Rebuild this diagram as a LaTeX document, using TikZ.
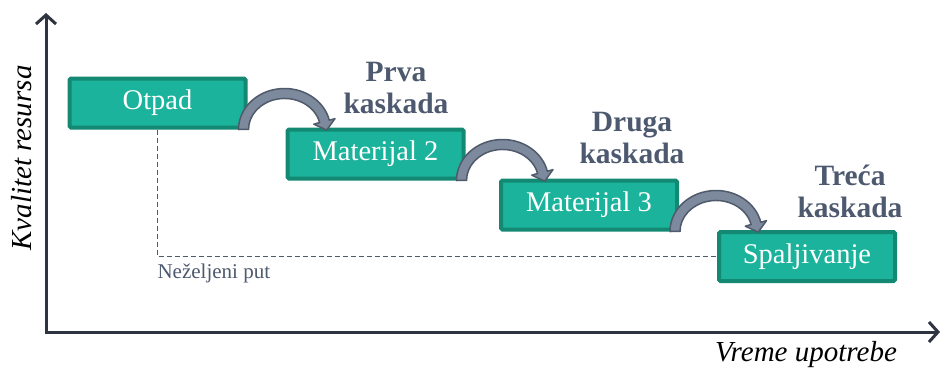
\documentclass[tikz,border=0pt]{standalone}
\usepackage{fontspec}
\setmainfont{Liberation Serif}
\usetikzlibrary{arrows.meta,calc}
\definecolor{boxfill}{HTML}{1BB39B}
\definecolor{boxline}{HTML}{138873}
\definecolor{labelcol}{HTML}{4D596E}
\definecolor{arrfill}{HTML}{7D899D}
\definecolor{arrline}{HTML}{4F5A6B}
\definecolor{axiscol}{HTML}{2E3440}
\tikzset{
  stagebox/.style={draw=boxline, fill=boxfill, line width=4pt, rounded corners=1.5pt,
    minimum width=176pt, minimum height=49pt, inner sep=0pt, text=white,
    font=\fontsize{28.5}{31}\selectfont},
  cascadelabel/.style={align=center, text=labelcol, font=\fontsize{29.5}{32}\selectfont\bfseries},
  axislabel/.style={font=\fontsize{29}{32}\selectfont\itshape, text=black},
  blockarrow/.style={fill=arrfill, draw=arrline, line width=1.5pt, line join=round},
  axisline/.style={draw=axiscol, line width=3pt, {Straight Barb[length=9pt,width=20pt]}-{Straight Barb[length=9pt,width=20pt]}},
  pathline/.style={draw=arrline, line width=1.8pt, dash pattern=on 5pt off 3pt}
}
\newcommand\cascadearrow[1]{%
  \begin{scope}[shift={(#1)}]
    \path[blockarrow] (-5pt,0pt) arc[start angle=180, end angle=13, x radius=46pt, y radius=41pt]
      -- (91.5pt,10.9pt) -- (83.2pt,-0.6pt) -- (70.3pt,5.3pt) -- (76.1pt,7.0pt)
      arc[start angle=13, end angle=180, x radius=36pt, y radius=31pt] -- cycle;
  \end{scope}}
\begin{document}
\begin{tikzpicture}[x=1pt,y=1pt]
\useasboundingbox (0,0) rectangle (942,368);
% axes
\coordinate (ytop) at (46,355);
\coordinate (origin) at (46,36);
\coordinate (xend) at (940,36);
\draw[axisline] (ytop) -- (origin) -- (xend);
\node[axislabel, rotate=90] (ylab) at (22,210) {Kvalitet resursa};
\node[axislabel] (xlab) at (806,13) {Vreme upotrebe};
% boxes
\node[stagebox] (otpad) at (157.5,265) {Otpad};
\node[stagebox] (m2) at (375.5,214) {Materijal 2};
\node[stagebox] (m3) at (589,163) {Materijal 3};
\node[stagebox] (spal) at (807,111.5) {Spaljivanje};
% unwanted path
\draw[pathline] (otpad.south) |- (spal.west);
\node[anchor=west, text=labelcol, font=\fontsize{21}{24}\selectfont] (nput) at (154,95) {Neželjeni put};
% cascade arrows
\coordinate (f1) at ($(otpad.south east)+(-4,0)$);
\coordinate (f2) at ($(m2.south east)+(-4,0)$);
\coordinate (f3) at ($(m3.south east)+(-4,0)$);
\cascadearrow{f1}
\cascadearrow{f2}
\cascadearrow{f3}
% labels
\node[cascadelabel] (c1) at (396,280) {Prva\\kaskada};
\node[cascadelabel] (c2) at (632,230) {Druga\\kaskada};
\node[cascadelabel] (c3) at (850,177) {Treća\\kaskada};
\end{tikzpicture}
\end{document}
